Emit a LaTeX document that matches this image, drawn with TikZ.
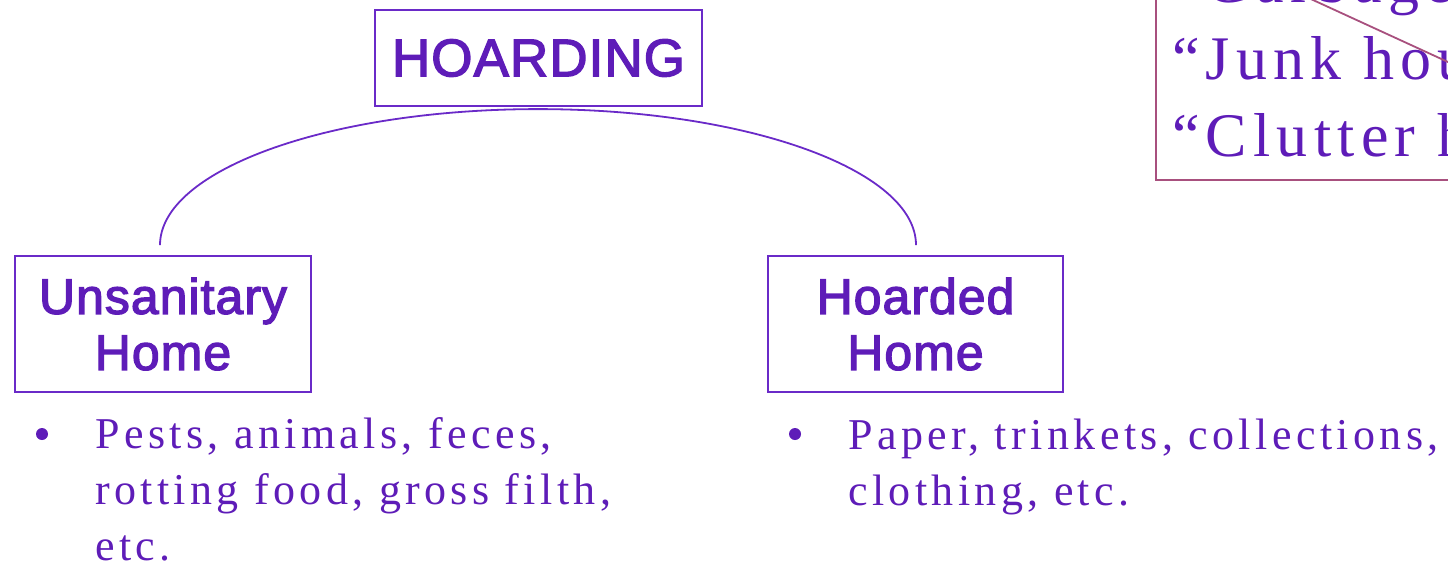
\documentclass[tikz,border=0pt]{standalone}
\usepackage{fontspec}
\usetikzlibrary{calc}
\setmainfont{Liberation Serif}
\newfontfamily\boxfont[FakeBold=2.5,LetterSpace=2]{Liberation Sans}
\newfontfamily\trkfont[LetterSpace=10]{Liberation Serif}
\newfontfamily\qfont[LetterSpace=10]{Liberation Serif}
\definecolor{txt}{HTML}{5E1CB8}
\definecolor{edge}{HTML}{6A2AC8}
\definecolor{mauve}{HTML}{A8507E}
\begin{document}
\begin{tikzpicture}[x=1pt,y=-1pt,
  box/.style={draw=edge,line width=1.8pt,rectangle,inner sep=0pt,text=txt,align=center,font=\boxfont\fontsize{50}{56}\selectfont},
  bul/.style={anchor=base west,inner sep=0pt,text=txt,align=left,font=\trkfont\fontsize{44}{56}\selectfont},
  dot/.style={circle,fill=txt,inner sep=0pt,minimum size=12pt},
  quote/.style={anchor=base west,inner sep=0pt,text=txt,font=\qfont\fontsize{62}{77}\selectfont}]
\useasboundingbox (0,0) rectangle (1448,566);
\clip (0,0) rectangle (1448,566);
% top-right cropped box
\draw[mauve,line width=1.8pt] (1156,-20) rectangle (1600,180);
\node[quote] (q1) at (1172,2) {“Garbage house”};
\node[quote] (q2) at (1172,79) {“Junk house”};
\node[quote] (q3) at (1172,156) {“Clutter house”};
\coordinate (xa) at (1313,0);
\coordinate (xb) at (1448,62);
\draw[mauve,line width=1.8pt] ($(xa)!-0.2!(xb)$) -- ($(xa)!1.2!(xb)$);
% main boxes
\node[box,minimum width=327pt,minimum height=96pt,font=\boxfont\fontsize{53}{60}\selectfont] (hoard) at (538.5,58) {HOARDING};
\node[box,minimum width=296pt,minimum height=136pt] (uns) at (163,324) {Unsanitary\\Home};
\node[box,minimum width=295pt,minimum height=136pt] (hrd) at (915.5,324) {Hoarded\\Home};
\draw[edge,line width=1.8pt] ([xshift=-3pt,yshift=10pt]uns.north) arc[start angle=180,end angle=360,x radius=378,y radius=136];
% bullets
\node[dot] (d1) at (42,434) {};
\node[bul] (b1) at (95,560) {Pests, animals, feces,\\rotting food, gross filth,\\etc.};
\node[dot] (d2) at (795,434) {};
\node[bul] (b2) at (848,505) {Paper, trinkets, collections,\\clothing, etc.};
\end{tikzpicture}
\end{document}
